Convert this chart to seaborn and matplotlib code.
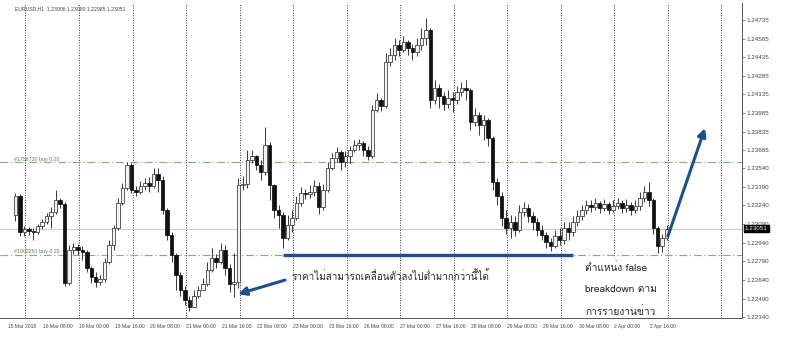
import numpy as np
import pandas as pd
import matplotlib
matplotlib.use("Agg")
import matplotlib.pyplot as plt
import seaborn as sns
from matplotlib import font_manager as fm
from matplotlib.patches import Rectangle
import matplotlib.transforms as mtransforms

# ---------------- data (EURUSD, 2-hour candles) ----------------
first_open = 1.23163
closes = [
    1.23316, 1.23026, 1.23050, 1.23034, 1.23026, 1.23074, 1.23107, 1.23155, 1.23187, 1.23284,
    1.23252, 1.22615, 1.22881, 1.22905, 1.22881, 1.22865, 1.22736, 1.22663, 1.22623, 1.22647,
    1.22784, 1.22921, 1.23058, 1.23260, 1.23381, 1.23566, 1.23365, 1.23348, 1.23397, 1.23421,
    1.23397, 1.23494, 1.23445, 1.23203, 1.23002, 1.22841, 1.22679, 1.22559, 1.22478, 1.22422,
    1.22510, 1.22559, 1.22607, 1.22720, 1.22816, 1.22784, 1.22881, 1.22736, 1.22607, 1.22623,
    1.23405, 1.23413, 1.23606, 1.23639, 1.23566, 1.23510, 1.23727, 1.23405, 1.23203, 1.23163,
    1.22978, 1.23082, 1.23139, 1.23260, 1.23340, 1.23332, 1.23348, 1.23397, 1.23228, 1.23365,
    1.23542, 1.23623, 1.23671, 1.23590, 1.23639, 1.23687, 1.23727, 1.23743, 1.23687, 1.23639,
    1.24009, 1.24090, 1.24042, 1.24396, 1.24453, 1.24533, 1.24493, 1.24557, 1.24509, 1.24477,
    1.24533, 1.24590, 1.24654, 1.24090, 1.24187, 1.24122, 1.24058, 1.24106, 1.24090, 1.24154,
    1.24187, 1.24171, 1.23913, 1.23969, 1.23888, 1.23929, 1.23784, 1.23429, 1.23316, 1.23139,
    1.23058, 1.23107, 1.23042, 1.23187, 1.23220, 1.23155, 1.23107, 1.23042, 1.23002, 1.22945,
    1.22913, 1.22994, 1.22962, 1.23058, 1.23026, 1.23107, 1.23155, 1.23203, 1.23244, 1.23228,
    1.23260, 1.23220, 1.23252, 1.23203, 1.23236, 1.23260, 1.23220, 1.23244, 1.23203, 1.23236,
    1.23300, 1.23348, 1.23284, 1.23058, 1.22913, 1.22978, 1.23051,
]
highs = [
    1.23340, 1.23332, 1.23074, 1.23066, 1.23058, 1.23091, 1.23131, 1.23179, 1.23228, 1.23365,
    1.23300, 1.23268, 1.22921, 1.22937, 1.22929, 1.22913, 1.22881, 1.22752, 1.22704, 1.22679,
    1.22816, 1.22962, 1.23082, 1.23300, 1.23421, 1.23590, 1.23582, 1.23397, 1.23437, 1.23461,
    1.23469, 1.23542, 1.23542, 1.23477, 1.23220, 1.23026, 1.22857, 1.22704, 1.22591, 1.22510,
    1.22559, 1.22591, 1.22655, 1.22784, 1.22897, 1.22849, 1.22937, 1.22921, 1.22768, 1.22857,
    1.23461, 1.23477, 1.23687, 1.23687, 1.23647, 1.23606, 1.23872, 1.23751, 1.23413, 1.23244,
    1.23187, 1.23163, 1.23203, 1.23316, 1.23389, 1.23373, 1.23405, 1.23445, 1.23429, 1.23413,
    1.23590, 1.23663, 1.23711, 1.23687, 1.23679, 1.23719, 1.23768, 1.23776, 1.23760, 1.23719,
    1.24050, 1.24146, 1.24106, 1.24469, 1.24509, 1.24590, 1.24574, 1.24606, 1.24574, 1.24541,
    1.24590, 1.24670, 1.24751, 1.24670, 1.24251, 1.24219, 1.24154, 1.24171, 1.24154, 1.24203,
    1.24235, 1.24251, 1.24187, 1.24026, 1.23993, 1.23969, 1.23945, 1.23800, 1.23461, 1.23348,
    1.23203, 1.23163, 1.23155, 1.23244, 1.23268, 1.23252, 1.23187, 1.23139, 1.23082, 1.23026,
    1.22978, 1.23042, 1.23058, 1.23107, 1.23107, 1.23155, 1.23203, 1.23244, 1.23284, 1.23284,
    1.23300, 1.23276, 1.23292, 1.23268, 1.23284, 1.23300, 1.23284, 1.23292, 1.23268, 1.23284,
    1.23348, 1.23397, 1.23429, 1.23300, 1.23074, 1.23010, 1.23080,
]
lows = [
    1.23115, 1.22994, 1.22994, 1.23002, 1.22962, 1.23010, 1.23050, 1.23091, 1.23058, 1.23171,
    1.23220, 1.22591, 1.22599, 1.22849, 1.22841, 1.22800, 1.22704, 1.22615, 1.22583, 1.22599,
    1.22623, 1.22768, 1.22881, 1.23042, 1.23244, 1.23365, 1.23340, 1.23316, 1.23332, 1.23365,
    1.23348, 1.23381, 1.23348, 1.23171, 1.22962, 1.22784, 1.22559, 1.22510, 1.22438, 1.22389,
    1.22430, 1.22494, 1.22559, 1.22591, 1.22704, 1.22736, 1.22768, 1.22679, 1.22542, 1.22502,
    1.22575, 1.23365, 1.23381, 1.23582, 1.23526, 1.23445, 1.23485, 1.23284, 1.23139, 1.23058,
    1.22897, 1.22962, 1.23026, 1.23123, 1.23236, 1.23292, 1.23300, 1.23316, 1.23171, 1.23203,
    1.23348, 1.23526, 1.23590, 1.23526, 1.23550, 1.23582, 1.23671, 1.23687, 1.23639, 1.23606,
    1.23623, 1.23993, 1.24001, 1.24026, 1.24364, 1.24412, 1.24445, 1.24477, 1.24453, 1.24412,
    1.24445, 1.24493, 1.24533, 1.24026, 1.24058, 1.24026, 1.24009, 1.24026, 1.23993, 1.24058,
    1.24122, 1.24090, 1.23848, 1.23880, 1.23808, 1.23768, 1.23719, 1.23365, 1.23244, 1.23074,
    1.23010, 1.22978, 1.22994, 1.23026, 1.23155, 1.23107, 1.23042, 1.22994, 1.22962, 1.22897,
    1.22873, 1.22897, 1.22921, 1.22929, 1.22962, 1.22994, 1.23074, 1.23123, 1.23171, 1.23187,
    1.23203, 1.23179, 1.23195, 1.23171, 1.23187, 1.23211, 1.23179, 1.23187, 1.23163, 1.23179,
    1.23203, 1.23268, 1.23236, 1.23010, 1.22857, 1.22865, 1.22962,
]

price_ticks = [1.22340, 1.22490, 1.22640, 1.22790, 1.22940, 1.23090, 1.23240, 1.23390,
               1.23540, 1.23685, 1.23835, 1.23985, 1.24135, 1.24285, 1.24435, 1.24585, 1.24735]
time_labels = ["15 Mar 2018", "16 Mar 08:00", "19 Mar 00:00", "19 Mar 16:00", "20 Mar 08:00",
               "21 Mar 00:00", "21 Mar 16:00", "22 Mar 08:00", "23 Mar 00:00", "23 Mar 16:00",
               "26 Mar 08:00", "27 Mar 00:00", "27 Mar 16:00", "28 Mar 08:00", "29 Mar 00:00",
               "29 Mar 16:00", "30 Mar 08:00", "2 Apr 00:00", "2 Apr 16:00"]
title_text = "EURUSD,H1  1.23006 1.23089 1.22985 1.23051"
order_levels = [1.23590, 1.22841]
order_labels = ["#1756730 buy 0.20", "#1802291 buy 0.20"]
current_price = 1.23051
support_level = 1.22841
note1 = "ราคาไม่สามารถเคลื่อนตัวลงไปต่ำมากกว่านี้ได้"
note2 = ["ตำแหน่ง false", "breakdown ตาม", "การรายงานข่าว"]

# ---------------- fonts ----------------
sns.set_theme(style="white")


def find_thai_family():
    try:
        from fontTools.ttLib import TTFont
    except Exception:
        return None
    for f in fm.fontManager.ttflist:
        try:
            tt = TTFont(f.fname, fontNumber=0, lazy=True)
            cmap = tt.getBestCmap() or {}
            if 0x0E23 in cmap and 0x0E32 in cmap and 0x0E48 in cmap:
                return f.name
        except Exception:
            continue
    return None


thai = find_thai_family()
fam = [thai, "DejaVu Sans"] if thai else ["DejaVu Sans"]
small = ["Liberation Sans", "DejaVu Sans"]
plt.rcParams["font.family"] = small

# ---------------- frame ----------------
df = pd.DataFrame({"close": closes, "high": highs, "low": lows})
df["open"] = [first_open] + closes[:-1]
df["hour"] = -4.5 + 2.0 * np.arange(len(df))   # hours from 16 Mar 00:00
df["high"] = df[["high", "open", "close"]].max(axis=1)
df["low"] = df[["low", "open", "close"]].min(axis=1)
bull = df["close"] >= df["open"]

fig = plt.figure(figsize=(8.0, 3.37), dpi=100)
ax = fig.add_axes([0.0, 19 / 337, 742 / 800, 315 / 337])
ax.set_facecolor("white")

# vertical day grid
for h in range(0, 321, 24):
    ax.axvline(h, color="#222222", lw=0.6, ls=(0, (1.2, 1.8)), zorder=1)

# current price line & order lines
ax.axhline(current_price, color="#cfcfcf", lw=0.9, zorder=1)
for lvl, lab in zip(order_levels, order_labels):
    ax.axhline(lvl, color="#7fae7f", lw=0.8, ls=(0, (7, 2.5, 1, 2.5)), zorder=1)
    ax.text(-5.2, lvl + 0.00004, lab, fontsize=3.8, color="#667755", va="bottom", ha="left", zorder=2)

# candles
w = 1.55
ax.vlines(df["hour"], df["low"], df["high"], color="#2a2a2a", lw=0.65, zorder=3)
ax.bar(df["hour"][bull], (df["close"] - df["open"])[bull].clip(lower=0.00002),
       bottom=df["open"][bull], width=w, color="#f4f4f4", edgecolor="#333333", linewidth=0.55, zorder=4)
ax.bar(df["hour"][~bull], (df["close"] - df["open"])[~bull],
       bottom=df["open"][~bull], width=w, color="#111111", edgecolor="#111111", linewidth=0.55, zorder=4)

# annotations
blue = "#1d4f8c"
ax.plot([115.5, 245.5], [support_level, support_level], color=blue, lw=2.4, solid_capstyle="butt", zorder=5)
ax.annotate("", xy=(95.3, 1.22526), xytext=(116.4, 1.22639),
            arrowprops=dict(arrowstyle="-|>", color=blue, lw=2.2, mutation_scale=12, shrinkA=0, shrinkB=0), zorder=6)
ax.annotate("", xy=(304.7, 1.23864), xytext=(288.1, 1.22994),
            arrowprops=dict(arrowstyle="-|>", color=blue, lw=2.2, mutation_scale=12, shrinkA=0, shrinkB=0), zorder=6)

ax.text(119.5, 1.22670, note1, family=fam, fontsize=7.1, color="#222222", va="center", ha="left", zorder=6)
ax.add_patch(Rectangle((241.0, 1.22333), 46.5, 0.00483, facecolor="white", edgecolor="none", zorder=5))
for line, yv in zip(note2, [1.22736, 1.22559, 1.22389]):
    ax.text(250.9, yv, line, family=fam, fontsize=7.3, color="#222222", va="center", ha="left", zorder=6)

# axes
ax.set_xlim(-11.43, 321.3)
ax.set_ylim(1.22333, 1.24872)
ax.yaxis.tick_right()
ax.set_yticks(price_ticks)
ax.set_yticklabels([f"{p:.5f}" for p in price_ticks], fontsize=4.5, color="#444444")
ax.set_xticks([-8 + 16 * k for k in range(len(time_labels))])
ax.set_xticklabels(time_labels, fontsize=3.6, color="#444444", ha="left")
ax.tick_params(axis="both", length=2, width=0.5, color="#555555", pad=1.5)
ax.tick_params(axis="x", pad=2.2)
for s in ["top", "left"]:
    ax.spines[s].set_visible(False)
for s in ["right", "bottom"]:
    ax.spines[s].set_color("#555555")
    ax.spines[s].set_linewidth(0.7)

# current price box
trans = mtransforms.blended_transform_factory(ax.transAxes, ax.transData)
ax.text(1.004, current_price, f"{current_price:.5f}", transform=trans, fontsize=4.5, color="white",
        va="center", ha="left", bbox=dict(boxstyle="square,pad=0.15", fc="black", ec="black"), zorder=7,
        clip_on=False)

ax.text(0.02, 0.99, title_text, transform=ax.transAxes, fontsize=3.7, color="#444444", va="top", ha="left")

fig.savefig("out.png", dpi=100, facecolor="white")
